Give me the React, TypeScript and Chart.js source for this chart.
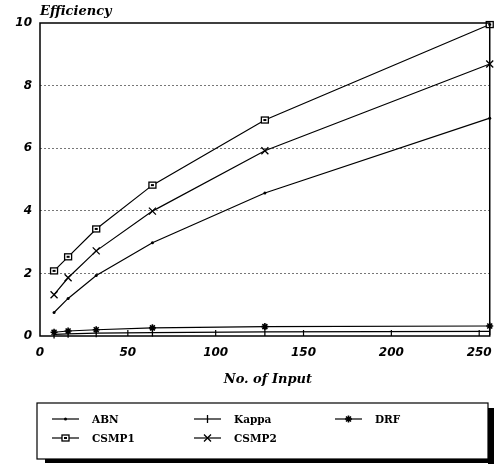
import React, { useEffect, useRef } from "react";
import { Chart, registerables } from "chart.js";

Chart.register(...registerables);

const inputs = [8, 16, 32, 64, 128, 256];
const abn = [0.75, 1.2, 1.93, 2.98, 4.57, 6.96];
const kappa = [0.05, 0.07, 0.09, 0.11, 0.13, 0.15];
const drf = [0.12, 0.16, 0.2, 0.26, 0.3, 0.32];
const csmp1 = [2.08, 2.53, 3.42, 4.82, 6.9, 9.95];
const csmp2 = [1.32, 1.86, 2.72, 3.99, 5.92, 8.69];
const xTicks = [0, 50, 100, 150, 200, 250];
const yTicks = [0, 2, 4, 6, 8, 10];
const seriesNames = ["ABN", "Kappa", "DRF", "CSMP1", "CSMP2"];

const serif = "'DejaVu Serif', 'Liberation Serif', serif";
const sans = "'DejaVu Sans', 'Liberation Sans', sans-serif";

function drawMarker(ctx: CanvasRenderingContext2D, style: string, x: number, y: number) {
  ctx.save();
  ctx.strokeStyle = "#000";
  ctx.fillStyle = "#000";
  ctx.lineWidth = 1.3;
  if (style === "circle") {
    ctx.beginPath();
    ctx.arc(x, y, 1.5, 0, Math.PI * 2);
    ctx.fill();
  } else if (style === "cross") {
    ctx.beginPath();
    ctx.moveTo(x, y - 4);
    ctx.lineTo(x, y + 4);
    ctx.stroke();
  } else if (style === "star") {
    ctx.lineWidth = 1.6;
    ctx.beginPath();
    for (let i = 0; i < 4; i++) {
      const a = (i * Math.PI) / 4;
      ctx.moveTo(x - 3.5 * Math.cos(a), y - 3.5 * Math.sin(a));
      ctx.lineTo(x + 3.5 * Math.cos(a), y + 3.5 * Math.sin(a));
    }
    ctx.stroke();
  } else if (style === "rect") {
    ctx.fillStyle = "#fff";
    ctx.fillRect(x - 3.5, y - 3, 7, 6);
    ctx.strokeRect(x - 3.5, y - 3, 7, 6);
    ctx.fillStyle = "#000";
    ctx.fillRect(x - 1.5, y - 1, 3, 2);
  } else if (style === "crossRot") {
    ctx.beginPath();
    ctx.moveTo(x - 3.5, y - 3.5);
    ctx.lineTo(x + 3.5, y + 3.5);
    ctx.moveTo(x + 3.5, y - 3.5);
    ctx.lineTo(x - 3.5, y + 3.5);
    ctx.stroke();
  }
  ctx.restore();
}

const markerStyles = ["circle", "cross", "star", "rect", "crossRot"];

const decorPlugin = {
  id: "decor",
  afterDatasetsDraw(chart: any) {
    const { ctx, chartArea, scales } = chart;
    const { left, right, top, bottom } = chartArea;
    ctx.save();
    chart.data.datasets.forEach((ds: any, i: number) => {
      const meta = chart.getDatasetMeta(i);
      meta.data.forEach((pt: any) => drawMarker(ctx, markerStyles[i], pt.x, pt.y));
    });
    ctx.strokeStyle = "#000";
    ctx.lineWidth = 1.5;
    ctx.strokeRect(left, top, right - left, bottom - top);
    ctx.lineWidth = 1.2;
    xTicks.slice(1).forEach((v) => {
      const x = scales.x.getPixelForValue(v);
      ctx.beginPath();
      ctx.moveTo(x, bottom);
      ctx.lineTo(x, bottom - 6);
      ctx.stroke();
    });
    ctx.fillStyle = "#000";
    ctx.font = `italic bold 13px ${serif}`;
    ctx.textBaseline = "middle";
    ctx.textAlign = "left";
    ctx.fillText("Efficiency", left, 12);
    ctx.textAlign = "center";
    ctx.fillText("No. of Input", (left + right) / 2 + 3, 380);
    // legend box
    const lx = 37, ly = 403, lw = 451, lh = 56;
    ctx.fillStyle = "#000";
    ctx.fillRect(lx + lw, ly + 5, 6, lh);
    ctx.fillRect(lx + 8, ly + lh, lw - 2, 4);
    ctx.fillStyle = "#fff";
    ctx.fillRect(lx, ly, lw, lh);
    ctx.strokeStyle = "#000";
    ctx.lineWidth = 1.2;
    ctx.strokeRect(lx, ly, lw, lh);
    const cols = [52, 194, 335];
    const rows = [419, 438];
    ctx.font = `bold 10.5px ${serif}`;
    ctx.textAlign = "left";
    seriesNames.forEach((name, i) => {
      const cx = cols[i % 3];
      const cy = rows[Math.floor(i / 3)];
      ctx.beginPath();
      ctx.moveTo(cx, cy);
      ctx.lineTo(cx + 27, cy);
      ctx.lineWidth = 1.2;
      ctx.stroke();
      drawMarker(ctx, markerStyles[i], cx + 13.5, cy);
      ctx.fillStyle = "#000";
      ctx.fillText(name, cx + 40, cy + 1);
    });
    ctx.restore();
  },
};

export default function App() {
  const ref = useRef<HTMLCanvasElement | null>(null);
  useEffect(() => {
    document.body.style.margin = "0";
    if (!ref.current) return;
    const mk = (label: string, data: number[]) => ({
      label,
      data: inputs.map((x, i) => ({ x, y: data[i] })),
      borderColor: "#000",
      borderWidth: 1.2,
      pointRadius: 0,
      tension: 0,
      fill: false,
    });
    const chart = new Chart(ref.current, {
      type: "line",
      data: {
        datasets: [
          mk("ABN", abn),
          mk("Kappa", kappa),
          mk("DRF", drf),
          mk("CSMP1", csmp1),
          mk("CSMP2", csmp2),
        ],
      },
      options: {
        animation: false,
        responsive: false,
        layout: { padding: { left: 0, right: 12, top: 23, bottom: 98 } },
        plugins: { legend: { display: false }, tooltip: { enabled: false } },
        scales: {
          x: {
            type: "linear",
            min: 0,
            max: 256,
            afterBuildTicks: (s: any) => {
              s.ticks = xTicks.map((v) => ({ value: v }));
            },
            afterFit: (s: any) => {
              s.height = 30;
            },
            grid: { display: false, drawTicks: false },
            border: { display: false },
            ticks: {
              padding: 10,
              color: "#000",
              font: { family: sans, size: 12, weight: "bold", style: "italic" },
              maxRotation: 0,
            },
          },
          y: {
            min: 0,
            max: 10,
            afterBuildTicks: (s: any) => {
              s.ticks = yTicks.map((v) => ({ value: v }));
            },
            afterFit: (s: any) => {
              s.width = 40;
            },
            grid: {
              drawTicks: false,
              color: (c: any) => (c.tick && (c.tick.value === 0 || c.tick.value === 10) ? "rgba(0,0,0,0)" : "#777"),
              lineWidth: 1,
            },
            border: { display: false, dash: [2, 2] },
            ticks: {
              padding: 8,
              color: "#000",
              font: { family: sans, size: 12, weight: "bold", style: "italic" },
            },
          },
        },
      },
      plugins: [decorPlugin],
    } as any);
    return () => chart.destroy();
  }, []);
  return (
    <div style={{ width: 502, height: 464, background: "#fff" }}>
      <canvas ref={ref} width={502} height={464} style={{ display: "block" }} />
    </div>
  );
}
